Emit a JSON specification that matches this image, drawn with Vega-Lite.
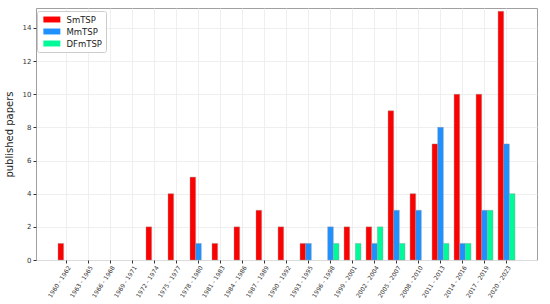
{
  "$schema": "https://vega.github.io/schema/vega-lite/v6.json",
  "width": 501,
  "height": 252,
  "autosize": "none",
  "padding": {"left": 36, "top": 8, "right": 13, "bottom": 44},
  "background": "white",
  "config": {
    "font": "DejaVu Sans",
    "view": {"stroke": "#a0a0a0", "strokeWidth": 1}
  },
  "data": {
    "values": [
      {"period": "1960 - 1962", "series": "SmTSP", "papers": 1},
      {"period": "1972 - 1974", "series": "SmTSP", "papers": 2},
      {"period": "1975 - 1977", "series": "SmTSP", "papers": 4},
      {"period": "1978 - 1980", "series": "SmTSP", "papers": 5},
      {"period": "1978 - 1980", "series": "MmTSP", "papers": 1},
      {"period": "1981 - 1983", "series": "SmTSP", "papers": 1},
      {"period": "1984 - 1986", "series": "SmTSP", "papers": 2},
      {"period": "1987 - 1989", "series": "SmTSP", "papers": 3},
      {"period": "1990 - 1992", "series": "SmTSP", "papers": 2},
      {"period": "1993 - 1995", "series": "SmTSP", "papers": 1},
      {"period": "1993 - 1995", "series": "MmTSP", "papers": 1},
      {"period": "1996 - 1998", "series": "MmTSP", "papers": 2},
      {"period": "1996 - 1998", "series": "DFmTSP", "papers": 1},
      {"period": "1999 - 2001", "series": "SmTSP", "papers": 2},
      {"period": "1999 - 2001", "series": "DFmTSP", "papers": 1},
      {"period": "2002 - 2004", "series": "SmTSP", "papers": 2},
      {"period": "2002 - 2004", "series": "MmTSP", "papers": 1},
      {"period": "2002 - 2004", "series": "DFmTSP", "papers": 2},
      {"period": "2005 - 2007", "series": "SmTSP", "papers": 9},
      {"period": "2005 - 2007", "series": "MmTSP", "papers": 3},
      {"period": "2005 - 2007", "series": "DFmTSP", "papers": 1},
      {"period": "2008 - 2010", "series": "SmTSP", "papers": 4},
      {"period": "2008 - 2010", "series": "MmTSP", "papers": 3},
      {"period": "2011 - 2013", "series": "SmTSP", "papers": 7},
      {"period": "2011 - 2013", "series": "MmTSP", "papers": 8},
      {"period": "2011 - 2013", "series": "DFmTSP", "papers": 1},
      {"period": "2014 - 2016", "series": "SmTSP", "papers": 10},
      {"period": "2014 - 2016", "series": "MmTSP", "papers": 1},
      {"period": "2014 - 2016", "series": "DFmTSP", "papers": 1},
      {"period": "2017 - 2019", "series": "SmTSP", "papers": 10},
      {"period": "2017 - 2019", "series": "MmTSP", "papers": 3},
      {"period": "2017 - 2019", "series": "DFmTSP", "papers": 3},
      {"period": "2020 - 2023", "series": "SmTSP", "papers": 15},
      {"period": "2020 - 2023", "series": "MmTSP", "papers": 7},
      {"period": "2020 - 2023", "series": "DFmTSP", "papers": 4}
    ]
  },
  "mark": {"type": "bar", "stroke": "#999999", "strokeWidth": 0.4},
  "encoding": {
    "x": {
      "field": "period",
      "type": "nominal",
      "scale": {
        "domain": ["1960 - 1962","1963 - 1965","1966 - 1968","1969 - 1971","1972 - 1974","1975 - 1977","1978 - 1980","1981 - 1983","1984 - 1986","1987 - 1989","1990 - 1992","1993 - 1995","1996 - 1998","1999 - 2001","2002 - 2004","2005 - 2007","2008 - 2010","2011 - 2013","2014 - 2016","2017 - 2019","2020 - 2023"],
        "paddingInner": 0.23,
        "paddingOuter": 1.0
      },
      "axis": {
        "title": null,
        "labelAngle": -57,
        "labelAlign": "right",
        "labelBaseline": "middle",
        "labelFontSize": 6,
        "labelColor": "#333333",
        "labelPadding": 3,
        "labelOffset": 3,
        "tickColor": "#333333",
        "tickSize": 3,
        "domain": false,
        "grid": true,
        "gridColor": "#ebebeb",
        "gridWidth": 0.8
      }
    },
    "xOffset": {
      "field": "series",
      "type": "nominal",
      "scale": {"domain": ["SmTSP", "MmTSP", "DFmTSP"], "paddingInner": 0, "paddingOuter": 0}
    },
    "y": {
      "field": "papers",
      "type": "quantitative",
      "scale": {"domain": [0, 15.2], "nice": false},
      "axis": {
        "title": "published papers",
        "titleFontSize": 10,
        "titleFontWeight": "normal",
        "titleColor": "#222222",
        "titlePadding": 8,
        "values": [0, 2, 4, 6, 8, 10, 12, 14],
        "labelFontSize": 7,
        "labelColor": "#333333",
        "tickColor": "#333333",
        "tickSize": 3,
        "domain": false,
        "grid": true,
        "gridColor": "#ebebeb",
        "gridWidth": 0.8
      }
    },
    "color": {
      "field": "series",
      "type": "nominal",
      "scale": {"domain": ["SmTSP", "MmTSP", "DFmTSP"], "range": ["#ff0000", "#1e90ff", "#00fa9a"]},
      "legend": {
        "title": null,
        "orient": "none",
        "legendX": 1,
        "legendY": 3,
        "symbolType": "M-0.5,-0.7L3.5,-0.7L3.5,0.7L-0.5,0.7Z",
        "symbolSize": 72,
        "symbolStrokeWidth": 0,
        "labelFontSize": 8.5,
        "labelColor": "#222222",
        "rowPadding": 3,
        "padding": 4,
        "fillColor": "white",
        "strokeColor": "#cccccc",
        "cornerRadius": 2,
        "labelOffset": 16.5
      }
    }
  }
}
